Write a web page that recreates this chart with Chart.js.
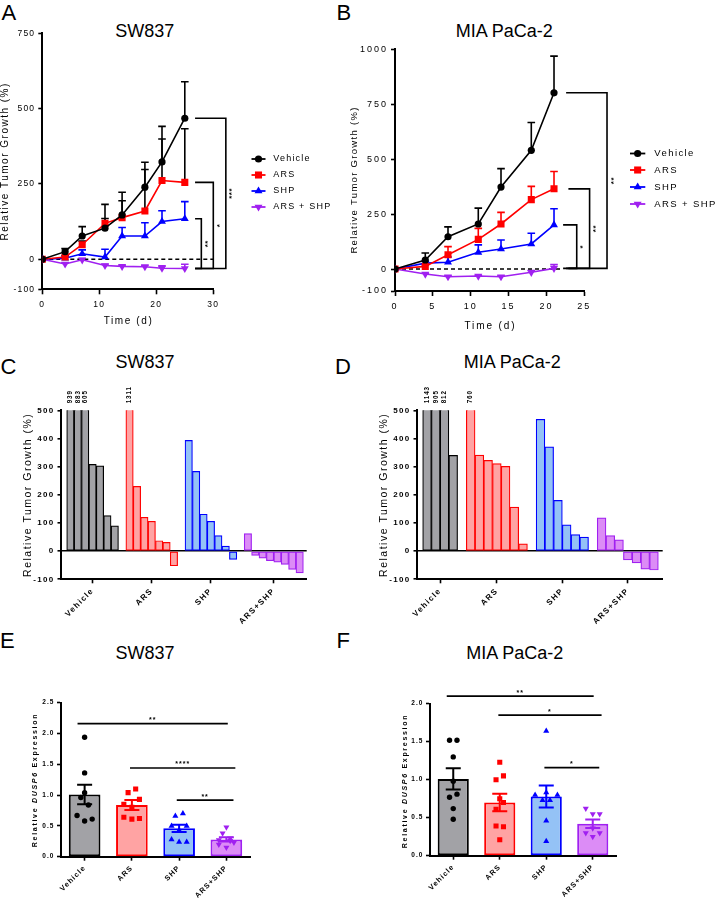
<!DOCTYPE html>
<html>
<head>
<meta charset="utf-8">
<title>Tumor growth figure</title>
<script src="https://cdn.jsdelivr.net/npm/chart.js"></script>
<style>
html,body{margin:0;padding:0;background:#fff;}
body{position:relative;width:716px;height:900px;overflow:hidden;}
canvas{position:absolute;display:block;}
.t{position:absolute;font-family:'Liberation Sans',Arial,sans-serif;color:#000;white-space:nowrap;line-height:1;}
.ttl{font-size:18px;transform:translate(-50%,-50%);}
.let{font-size:22px;}
</style>
</head>
<body>
<div class="t let" style="left:1.5px;top:2px">A</div>
<div class="t let" style="left:336.5px;top:2px">B</div>
<div class="t let" style="left:0.5px;top:356.4px">C</div>
<div class="t let" style="left:335px;top:356.4px">D</div>
<div class="t let" style="left:0px;top:629.7px">E</div>
<div class="t let" style="left:336.5px;top:629.7px">F</div>
<div class="t ttl" style="left:144.7px;top:30.8px">SW837</div>
<div class="t ttl" style="left:504.3px;top:30.5px">MIA PaCa-2</div>
<div class="t ttl" style="left:145px;top:361.7px">SW837</div>
<div class="t ttl" style="left:512.3px;top:361.7px">MIA PaCa-2</div>
<div class="t ttl" style="left:145px;top:653.3px">SW837</div>
<div class="t ttl" style="left:514.7px;top:653.3px">MIA PaCa-2</div>
<canvas id="cA"></canvas>
<canvas id="cB"></canvas>
<canvas id="cC"></canvas>
<canvas id="cD"></canvas>
<canvas id="cE"></canvas>
<canvas id="cF"></canvas>
<script>
const FONT = "'Liberation Sans', Arial, Helvetica, sans-serif";
Chart.defaults.font.family = FONT;
Chart.defaults.color = '#000';

// ================= DATA =================
const groupNames = ['Vehicle', 'ARS', 'SHP', 'ARS + SHP'];
const barGroupNames = ['Vehicle', 'ARS', 'SHP', 'ARS+SHP'];

// Panel A – SW837 relative tumor growth (%)
const daysA = [0, 4, 7, 11, 14, 18, 21, 25];
const vehicleA = [0, 25, 77, 103, 147, 239, 323, 468];
const vehicleSemA = [0, 10, 31, 79, 75, 83, 118, 121];
const arsA = [0, 7, 48, 119, 138, 160, 261, 255];
const arsSemA = [0, 5, 12, 16, 56, 138, 138, 178];
const shpA = [0, 3, 18, 7, 77, 77, 125, 134];
const shpSemA = [0, 5, 13, 26, 28, 44, 36, 57];
const comboA = [0, -16, -2, -21, -24, -25, -30, -31];
const comboSemA = [0, 4, 4, 4, 4, 5, 8, 14];
const yTicksA = [-100, 0, 250, 500, 750];
const xTicksA = [0, 10, 20, 30];
const starsA = ['**', '*', '***'];   // SHP, ARS, Vehicle vs ARS + SHP

// Panel B – MIA PaCa-2 relative tumor growth (%)
const daysB = [0, 4, 7, 11, 14, 18, 21];
const vehicleB = [0, 41, 147, 205, 373, 540, 802];
const vehicleSemB = [0, 32, 45, 72, 84, 127, 167];
const arsB = [0, 12, 65, 135, 205, 316, 365];
const arsSemB = [0, 11, 37, 50, 53, 60, 79];
const shpB = [0, 27, 31, 76, 91, 114, 201];
const shpSemB = [0, 8, 24, 34, 41, 49, 73];
const comboB = [0, -23, -35, -32, -35, -15, 3];
const comboSemB = [0, 4, 4, 4, 4, 8, 17];
const yTicksB = [-100, 0, 250, 500, 750, 1000];
const xTicksB = [0, 5, 10, 15, 20, 25];
const starsB = ['*', '**', '**'];

// Panel C – SW837 waterfall (%)
const vehicleC = [939, 883, 605, 308, 303, 126, 90];
const arsC = [1311, 230, 120, 106, 37, 31, -52];
const shpC = [393, 283, 131, 106, 55, 18, -29];
const comboC = [62, -15, -25, -34, -39, -47, -65, -77];
// Panel D – MIA PaCa-2 waterfall (%)
const vehicleD = [1143, 905, 812, 340];
const arsD = [760, 341, 322, 311, 301, 156, 26];
const shpD = [468, 370, 180, 93, 59, 50];
const comboD = [118, 55, 40, -31, -42, -64, -67];
const yTicksCD = [-100, 0, 100, 200, 300, 400, 500];

// Panel E – SW837 relative DUSP6 expression
const meanE = [1.01, 0.84, 0.46, 0.28];
const semE = [0.16, 0.08, 0.06, 0.035];
const vehiclePtsE = [1.94, 1.36, 1.04, 0.96, 0.84, 0.67, 0.58, 0.61];
const arsPtsE = [1.04, 1.10, 0.85, 0.93, 0.80, 0.64, 0.61, 0.62];
const shpPtsE = [0.66, 0.70, 0.50, 0.50, 0.43, 0.28, 0.24, 0.24];
const comboPtsE = [0.48, 0.38, 0.27, 0.26, 0.23, 0.20, 0.15, 0.30];
const yTicksE = [0, 0.5, 1, 1.5, 2, 2.5];
const starsE = ['**', '****', '**'];
// Panel F – MIA PaCa-2 relative DUSP6 expression
const meanF = [1.01, 0.70, 0.78, 0.42];
const semF = [0.14, 0.115, 0.145, 0.055];
const vehiclePtsF = [1.52, 1.52, 1.30, 0.98, 0.77, 0.81, 0.62, 0.48];
const arsPtsF = [1.23, 1.05, 1.00, 0.75, 0.70, 0.61, 0.39, 0.38, 0.21];
const shpPtsF = [1.64, 0.83, 0.80, 0.73, 0.80, 0.73, 0.46, 0.19];
const comboPtsF = [0.62, 0.55, 0.55, 0.36, 0.30, 0.30, 0.25];
const yTicksF = [0, 0.5, 1, 1.5, 2];
const starsF = ['**', '*', '*'];
const sigLevelsE = [2.16, 1.44, 0.92];
const sigLevelsF = [2.10, 1.85, 1.16];

// ================= LAYOUT / STYLE =================
const BOX = {
  A: {x: 0, y: 0, w: 340, h: 340}, B: {x: 340, y: 0, w: 376, h: 340},
  C: {x: 0, y: 340, w: 340, h: 300}, D: {x: 340, y: 340, w: 376, h: 300},
  E: {x: 0, y: 640, w: 340, h: 260}, F: {x: 340, y: 640, w: 376, h: 260}
};
const AREA = {
  A: {l: 42.3, t: 33.3, r: 213.3, b: 289.3}, B: {l: 395, t: 49.3, r: 584.3, b: 291},
  C: {l: 61, t: 410.3, r: 306.7, b: 579.3}, D: {l: 417, t: 410.3, r: 662.7, b: 579.3},
  E: {l: 61, t: 702.7, r: 250, b: 856.7}, F: {l: 430, t: 703.7, r: 616, b: 855.7}
};
const COLORS = ['#000000', '#ff0000', '#0000ff', '#a020f0'];
const FILLS = ['#a2a2a6', '#ffa3a3', '#94c2f6', '#dc8cf6'];
const SHAPES = [{s: 'circle', r: 3.6, rot: 0}, {s: 'rect', r: 5, rot: 0}, {s: 'triangle', r: 4.6, rot: 0}, {s: 'triangle', r: 4.6, rot: 180}];
const DOTR = [2.7, 3.6, 3.5, 3.5];
// horizontal jitter of dots (layout only, in category units)
const jitterE = [[0,0,0,-0.08,0.08,-0.16,0,0.16],[-0.08,0.08,-0.17,0.16,0,-0.17,0,0.16],[-0.08,0.08,-0.16,0.16,0,-0.16,0,0.16],[0,-0.08,-0.16,0.08,0.16,-0.16,0,0.08]];
const jitterF = [[-0.08,0.08,0,0,-0.08,0.08,0,0],[0,0.08,-0.08,0,0.08,-0.08,-0.08,0.08,0],[0,0,-0.24,-0.08,0.24,0.08,0,0],[-0.15,0,0.15,0,-0.15,0.15,0]];

// ================= HELPERS =================
function padding(box, area) { return {left: 0, top: area.t - box.y, right: box.x + box.w - area.r, bottom: 0}; }

function linAxis(box, area, isX, o) {
  return {
    type: 'linear', min: o.min, max: o.max, offset: false,
    afterFit: isX ? (s => { s.height = box.y + box.h - area.b; }) : (s => { s.width = area.l - box.x; }),
    afterBuildTicks: s => { s.ticks = o.ticks.map(v => ({value: v})); },
    border: {display: true, color: '#000', width: 2},
    grid: {display: true, offset: false, drawOnChartArea: !!o.gridColor, color: o.gridColor || '#000',
           lineWidth: o.gridWidth || 1, drawTicks: true, tickLength: o.tl, tickColor: '#000', tickWidth: 1.6},
    ticks: {autoSkip: false, maxRotation: o.rot || 0, minRotation: o.rot || 0, padding: o.pad, color: '#000',
            font: o.font, callback: o.cb || (v => String(v))},
    title: {display: false}
  };
}

function drawText(ctx, box, t) {
  ctx.save();
  ctx.letterSpacing = (t.ls || 0) + 'px';
  ctx.fillStyle = t.color || '#000';
  ctx.textBaseline = t.base || 'middle';
  ctx.translate(t.x - box.x, t.y - box.y);
  if (t.rot) ctx.rotate(t.rot * Math.PI / 180);
  const parts = t.parts || [{text: t.text, font: t.font}];
  let total = 0;
  parts.forEach(p => { ctx.font = p.font; p.w = ctx.measureText(p.text).width; total += p.w; });
  let x0 = t.align === 'left' ? 0 : (t.align === 'right' ? -total : -total / 2);
  ctx.textAlign = 'left';
  parts.forEach(p => { ctx.font = p.font; ctx.fillText(p.text, x0, 0); x0 += p.w; });
  ctx.restore();
}

function marker(ctx, shape, x, y, r, color, rot) {
  ctx.save(); ctx.fillStyle = color; ctx.beginPath();
  if (shape === 'circle') ctx.arc(x, y, r, 0, 2 * Math.PI);
  else if (shape === 'rect') { const s = r * Math.SQRT1_2; ctx.rect(x - s, y - s, 2 * s, 2 * s); }
  else {
    let a = (rot || 0) * Math.PI / 180;
    ctx.moveTo(x + Math.sin(a) * r, y - Math.cos(a) * r); a += 2 * Math.PI / 3;
    ctx.lineTo(x + Math.sin(a) * r, y - Math.cos(a) * r); a += 2 * Math.PI / 3;
    ctx.lineTo(x + Math.sin(a) * r, y - Math.cos(a) * r); ctx.closePath();
  }
  ctx.fill(); ctx.restore();
}

function lsPlugin(v) { return {id: 'ls', beforeUpdate(c) { c.ctx.letterSpacing = v + 'px'; }, beforeDraw(c) { c.ctx.letterSpacing = v + 'px'; }}; }
function textsPlugin(box, list) { return {id: 'texts', afterDraw(c) { list.forEach(t => drawText(c.ctx, box, t)); }}; }

function mk(id, box, cfg) {
  const cv = document.getElementById(id);
  cv.width = box.w; cv.height = box.h;
  Object.assign(cv.style, {left: box.x + 'px', top: box.y + 'px', width: box.w + 'px', height: box.h + 'px'});
  cfg.options = Object.assign({responsive: false, maintainAspectRatio: false, animation: false, devicePixelRatio: 1, events: []}, cfg.options);
  return new Chart(cv, cfg);
}

// ================= LINE PANELS (A, B) =================
function linePanel(id, key, cfg) {
  const box = BOX[key], area = AREA[key];
  const datasets = cfg.series.map((s, g) => ({
    label: groupNames[g],
    data: cfg.days.map((d, i) => ({x: d, y: s.v[i]})),
    sem: s.sem, errColor: s.errColor || COLORS[g],
    borderColor: COLORS[g], backgroundColor: COLORS[g], pointBackgroundColor: COLORS[g],
    pointBorderWidth: 0, pointStyle: SHAPES[g].s, pointRotation: SHAPES[g].rot, pointRadius: SHAPES[g].r,
    borderWidth: 1.6, tension: 0, fill: false
  }));
  const errPlugin = {id: 'err', beforeDatasetsDraw(c) {
    const ctx = c.ctx, y = c.scales.y;
    c.data.datasets.forEach((ds, di) => {
      const meta = c.getDatasetMeta(di);
      ctx.save(); ctx.strokeStyle = ds.errColor; ctx.lineWidth = 1.6; ctx.beginPath();
      meta.data.forEach((p, i) => {
        const s = ds.sem[i]; if (!s) return;
        const top = y.getPixelForValue(ds.data[i].y + s);
        ctx.moveTo(p.x, p.y); ctx.lineTo(p.x, top);
        ctx.moveTo(p.x - 3.8, top); ctx.lineTo(p.x + 3.8, top);
      });
      ctx.stroke(); ctx.restore();
    });
  }};
  const zeroPlugin = {id: 'zero', beforeDatasetsDraw(c) {
    const ctx = c.ctx, x = c.scales.x, y = c.scales.y;
    ctx.save(); ctx.strokeStyle = '#000'; ctx.lineWidth = 1.6; ctx.setLineDash([4, 3]);
    ctx.beginPath(); ctx.moveTo(x.getPixelForValue(0), y.getPixelForValue(0));
    ctx.lineTo(x.getPixelForValue(cfg.dashEnd), y.getPixelForValue(0)); ctx.stroke(); ctx.restore();
  }};
  const bracketPlugin = {id: 'brk', afterDraw(c) {
    const ctx = c.ctx, x = c.scales.x, y = c.scales.y;
    const base = c.data.datasets[3].data; const yb = y.getPixelForValue(base[base.length - 1].y);
    cfg.brackets.forEach((b, k) => {
      const d = c.data.datasets[b.ds].data; const yt = y.getPixelForValue(d[d.length - 1].y);
      const x1 = x.getPixelForValue(b.x1), x2 = x.getPixelForValue(b.x2);
      ctx.save(); ctx.strokeStyle = '#000'; ctx.lineWidth = 1.6; ctx.beginPath();
      ctx.moveTo(x1, yt); ctx.lineTo(x2, yt); ctx.lineTo(x2, yb); ctx.lineTo(x1, yb); ctx.stroke();
      ctx.letterSpacing = '0.5px';
      ctx.font = 'bold 8px ' + FONT; ctx.fillStyle = '#000'; ctx.textAlign = 'center'; ctx.textBaseline = 'alphabetic';
      ctx.translate(x2 + 8.5, (yt + yb) / 2); ctx.rotate(-Math.PI / 2); ctx.fillText(cfg.stars[k], 0, 0);
      ctx.restore();
    });
  }};
  const L = cfg.legend;
  const legendPlugin = {id: 'leg', afterDraw(c) {
    const ctx = c.ctx;
    c.data.datasets.forEach((ds, g) => {
      const y = L.ys[g] - box.y;
      ctx.save(); ctx.strokeStyle = ds.borderColor; ctx.lineWidth = 1.8; ctx.beginPath();
      ctx.moveTo(L.x0 - box.x, y); ctx.lineTo(L.x1 - box.x, y); ctx.stroke(); ctx.restore();
      marker(ctx, SHAPES[g].s, (L.x0 + L.x1) / 2 - box.x, y, SHAPES[g].r, ds.borderColor, SHAPES[g].rot);
      drawText(ctx, box, {text: ds.label, x: L.tx, y: L.ys[g], font: L.font, ls: L.ls, align: 'left'});
    });
  }};
  return mk(id, box, {
    type: 'line',
    data: {datasets},
    options: {
      layout: {padding: padding(box, area)},
      plugins: {legend: {display: false}, tooltip: {enabled: false}},
      scales: {
        x: linAxis(box, area, true, {min: cfg.xTicks[0], max: cfg.xTicks[cfg.xTicks.length - 1], ticks: cfg.xTicks, tl: 5, pad: cfg.xpad, font: cfg.tickFont}),
        y: linAxis(box, area, false, {min: cfg.yTicks[0], max: cfg.yTicks[cfg.yTicks.length - 1], ticks: cfg.yTicks, tl: 4, pad: 3, font: cfg.tickFont})
      }
    },
    plugins: [lsPlugin(cfg.ls), errPlugin, zeroPlugin, bracketPlugin, legendPlugin, textsPlugin(box, cfg.texts)]
  });
}

linePanel('cA', 'A', {
  days: daysA,
  series: [{v: vehicleA, sem: vehicleSemA}, {v: arsA, sem: arsSemA, errColor: '#000000'}, {v: shpA, sem: shpSemA}, {v: comboA, sem: comboSemA}],
  xTicks: xTicksA, yTicks: yTicksA, tickFont: {size: 8.5}, ls: 1.2, xpad: 5, dashEnd: 30,
  brackets: [{ds: 2, x1: 26.8, x2: 27.9}, {ds: 1, x1: 26.8, x2: 30.0}, {ds: 0, x1: 26.8, x2: 32.2}], stars: starsA,
  legend: {x0: 251.5, x1: 265.5, tx: 273.3, ys: [159, 175, 191, 207], font: '9px ' + FONT, ls: 1.2},
  texts: [
    {text: 'Relative Tumor Growth (%)', x: 4.8, y: 161.3, rot: -90, font: '10px ' + FONT, ls: 1.5},
    {text: 'Time (d)', x: 128.5, y: 320.8, font: '10px ' + FONT, ls: 1.6}
  ]
});

linePanel('cB', 'B', {
  days: daysB,
  series: [{v: vehicleB, sem: vehicleSemB}, {v: arsB, sem: arsSemB}, {v: shpB, sem: shpSemB}, {v: comboB, sem: comboSemB}],
  xTicks: xTicksB, yTicks: yTicksB, tickFont: {size: 9}, ls: 2, xpad: 5, dashEnd: 22,
  brackets: [{ds: 2, x1: 22.2, x2: 24.0}, {ds: 1, x1: 22.9, x2: 25.7}, {ds: 0, x1: 22.6, x2: 28.0}], stars: starsB,
  legend: {x0: 630, x1: 645.3, tx: 654.3, ys: [153.5, 170, 187, 204], font: '9.5px ' + FONT, ls: 1.4},
  texts: [
    {text: 'Relative Tumor Growth (%)', x: 354, y: 180, rot: -90, font: '9.5px ' + FONT, ls: 1.3},
    {text: 'Time (d)', x: 490.5, y: 326.7, font: '10px ' + FONT, ls: 1.9}
  ]
});

// ================= WATERFALL PANELS (C, D) =================
function waterPanel(id, key, cfg) {
  const box = BOX[key], area = AREA[key];
  const datasets = cfg.groups.map((vals, g) => ({
    label: barGroupNames[g], data: vals.map((v, i) => ({x: cfg.offsets[g] + i, y: v})),
    backgroundColor: FILLS[g], borderColor: COLORS[g], borderWidth: 1.2, borderSkipped: false,
    barPercentage: 1, categoryPercentage: 1, grouped: false, clip: 0
  }));
  const centers = cfg.groups.map((vals, g) => cfg.offsets[g] + (vals.length - 1) / 2);
  const overPlugin = {id: 'over', afterDatasetsDraw(c) {
    const ctx = c.ctx, ys = c.scales.y, top = c.chartArea.top;
    c.data.datasets.forEach((ds, di) => {
      c.getDatasetMeta(di).data.forEach((b, i) => {
        const v = ds.data[i].y;
        if (v > ys.max) {
          ctx.save(); ctx.letterSpacing = '0.9px'; ctx.font = 'bold 6.3px ' + FONT; ctx.fillStyle = '#000';
          ctx.textAlign = 'left'; ctx.textBaseline = 'middle';
          ctx.translate(b.x, top - 7); ctx.rotate(-Math.PI / 2); ctx.fillText(String(v), 0, 0); ctx.restore();
        }
      });
    });
  }};
  return mk(id, box, {
    type: 'bar',
    data: {datasets},
    options: {
      layout: {padding: padding(box, area)},
      plugins: {legend: {display: false}, tooltip: {enabled: false}},
      scales: {
        x: linAxis(box, area, true, {min: cfg.min, max: cfg.max, ticks: centers, tl: 4, pad: 3, rot: 45,
             font: {size: 8, weight: 'bold'}, cb: (v, i) => barGroupNames[i]}),
        y: linAxis(box, area, false, {min: -100, max: 500, ticks: yTicksCD, tl: 3.5, pad: 3, font: {size: 8, weight: 'bold'},
             gridColor: c => (c.tick && c.tick.value === 0) ? '#000' : 'rgba(0,0,0,0)', gridWidth: 1.6})
      }
    },
    plugins: [lsPlugin(1.3), overPlugin, textsPlugin(box, [
      {text: 'Relative Tumor Growth (%)', x: cfg.titleX, y: 494.8, rot: -90, font: '10.5px ' + FONT, ls: 1.5}
    ])]
  });
}

waterPanel('cC', 'C', {groups: [vehicleC, arsC, shpC, comboC], offsets: [0, 8, 16, 24], min: -1.27, max: 31.95, titleX: 28});
waterPanel('cD', 'D', {groups: [vehicleD, arsD, shpD, comboD], offsets: [0, 5, 13, 20], min: -1.15, max: 27, titleX: 384});

// ================= DOT + BAR PANELS (E, F) =================
function dotPanel(id, key, cfg) {
  const box = BOX[key], area = AREA[key];
  const datasets = [{
    type: 'bar', label: 'mean', data: cfg.means.map((m, i) => ({x: i, y: m})),
    backgroundColor: FILLS, borderColor: COLORS, borderWidth: 2, borderSkipped: false,
    barPercentage: 0.67, categoryPercentage: 1, order: 10
  }];
  cfg.points.forEach((arr, g) => datasets.push({
    type: 'scatter', label: barGroupNames[g], data: arr.map((v, k) => ({x: g + cfg.jitter[g][k], y: v})),
    pointStyle: SHAPES[g].s, pointRotation: SHAPES[g].rot, pointRadius: DOTR[g],
    backgroundColor: COLORS[g], borderColor: COLORS[g], pointBorderWidth: 0, order: 1
  }));
  const semPlugin = {id: 'sem', afterDatasetDraw(c, args) {
    if (args.index !== 0) return;
    const ctx = c.ctx, y = c.scales.y;
    c.getDatasetMeta(0).data.forEach((b, i) => {
      const m = cfg.means[i], s = cfg.sems[i];
      const yt = y.getPixelForValue(m + s), yb = y.getPixelForValue(m - s);
      ctx.save(); ctx.strokeStyle = COLORS[i]; ctx.lineWidth = 2; ctx.beginPath();
      ctx.moveTo(b.x, yt); ctx.lineTo(b.x, yb);
      ctx.moveTo(b.x - 7.5, yt); ctx.lineTo(b.x + 7.5, yt);
      ctx.moveTo(b.x - 7.5, yb); ctx.lineTo(b.x + 7.5, yb);
      ctx.stroke(); ctx.restore();
    });
  }};
  const sigPlugin = {id: 'sig', afterDraw(c) {
    const ctx = c.ctx, x = c.scales.x, y = c.scales.y;
    cfg.sig.forEach((s, k) => {
      const yy = y.getPixelForValue(cfg.levels[k]);
      const x1 = x.getPixelForValue(s.x1), x2 = x.getPixelForValue(s.x2);
      ctx.save(); ctx.strokeStyle = '#000'; ctx.lineWidth = 1.7; ctx.beginPath();
      ctx.moveTo(x1, yy); ctx.lineTo(x2, yy); ctx.stroke();
      ctx.letterSpacing = '1px'; ctx.font = 'bold 7px ' + FONT; ctx.fillStyle = '#000';
      ctx.textAlign = 'center'; ctx.textBaseline = 'alphabetic';
      ctx.fillText(cfg.stars[k], (x1 + x2) / 2, yy - 1.5);
      ctx.restore();
    });
  }};
  return mk(id, box, {
    type: 'bar',
    data: {datasets},
    options: {
      layout: {padding: padding(box, area)},
      plugins: {legend: {display: false}, tooltip: {enabled: false}},
      scales: {
        x: linAxis(box, area, true, {min: -0.5, max: 3.5, ticks: [0, 1, 2, 3], tl: 4, pad: 3, rot: 45,
             font: {size: 7.3, weight: 'bold'}, cb: (v, i) => barGroupNames[i]}),
        y: linAxis(box, area, false, {min: cfg.yTicks[0], max: cfg.yTicks[cfg.yTicks.length - 1], ticks: cfg.yTicks, tl: 4, pad: 2.5,
             font: {size: 6.5, weight: 'bold'}, cb: v => v.toFixed(1)})
      }
    },
    plugins: [lsPlugin(1.1), semPlugin, sigPlugin, textsPlugin(box, [
      {parts: [{text: 'Relative ', font: 'bold 7px ' + FONT}, {text: 'DUSP6', font: 'italic bold 7px ' + FONT}, {text: ' Expression', font: 'bold 7px ' + FONT}],
       x: cfg.titleX, y: cfg.titleY, rot: -90, ls: 1.7}
    ])]
  });
}

dotPanel('cE', 'E', {
  means: meanE, sems: semE, points: [vehiclePtsE, arsPtsE, shpPtsE, comboPtsE], jitter: jitterE,
  yTicks: yTicksE, stars: starsE, levels: sigLevelsE,
  sig: [{x1: -0.15, x2: 3.03}, {x1: 0.96, x2: 3.19}, {x1: 1.95, x2: 3.15}],
  titleX: 35.5, titleY: 780
});
dotPanel('cF', 'F', {
  means: meanF, sems: semF, points: [vehiclePtsF, arsPtsF, shpPtsF, comboPtsF], jitter: jitterF,
  yTicks: yTicksF, stars: starsF, levels: sigLevelsF,
  sig: [{x1: -0.14, x2: 3.02}, {x1: 0.97, x2: 3.19}, {x1: 1.96, x2: 3.14}],
  titleX: 405.5, titleY: 781
});
</script>
</body>
</html>
